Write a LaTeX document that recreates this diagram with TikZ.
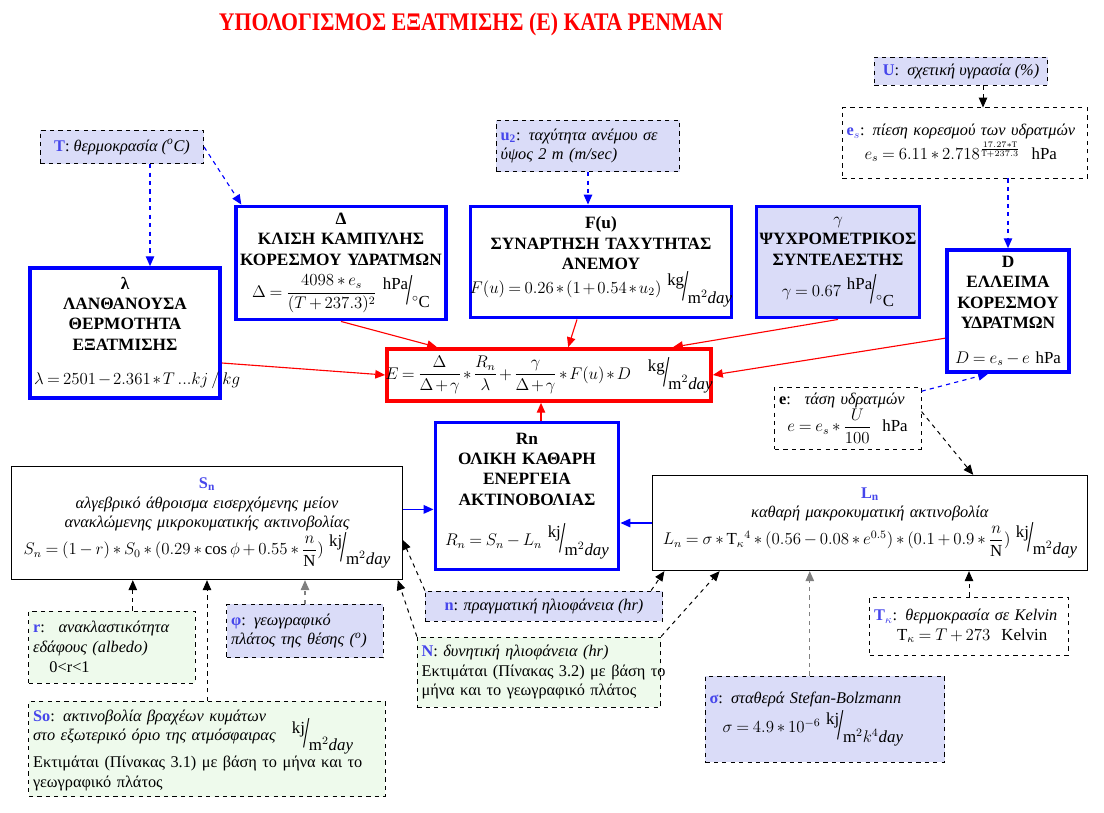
\documentclass[tikz,border=0pt]{standalone}
\usepackage{amsmath}
\usepackage{fontspec}
\setmainfont{Liberation Serif}
\usetikzlibrary{arrows.meta}

\definecolor{labblue}{RGB}{70,70,235}
\definecolor{lav}{RGB}{218,220,248}
\definecolor{mint}{RGB}{238,250,236}

\newcommand{\fm}{\fontsize{12}{14}\selectfont\mdseries\medmuskip=3mu\thickmuskip=4mu\relax}
\newcommand{\tight}{\medmuskip=2mu\thickmuskip=3.5mu\relax}
\newcommand{\cl}[1]{\makebox[\linewidth]{#1}}
\newcommand{\perunit}[2]{\raisebox{1.0ex}{#1}\kern-0.1em\raisebox{-0.9ex}{\scalebox{1.35}[2.6]{/}}\kern-0.05em\raisebox{-1.3ex}{#2}}
\newcommand{\lab}[1]{{\color{labblue}\bfseries #1}}

\begin{document}
\begin{tikzpicture}[x=0.025cm, y=-0.025cm,
		every node/.style={font=\fontsize{11.6}{14}\selectfont, inner sep=3pt},
		mainbox/.style={draw=blue, line width=2.6pt, align=center, font=\fontsize{12.3}{14.5}\selectfont\bfseries},
		redbox/.style={draw=red, line width=2.6pt, align=center},
		plainbox/.style={draw=black, line width=0.8pt, align=center},
		infobox/.style={draw=black, dashed, line width=0.7pt, align=left},
		feed/.style={draw=red, line width=0.8pt, -{Triangle[length=7pt,width=6pt]}},
		bluearr/.style={draw=blue, line width=1.2pt, -{Triangle[length=7pt,width=6pt]}},
		bluedash/.style={draw=blue, dashed, line width=0.8pt, -{Triangle[length=7pt,width=6pt]}},
		blackdash/.style={draw=black, dashed, line width=0.7pt, -{Triangle[length=7pt,width=6pt]}},
		greydash/.style={draw=gray, dashed, line width=0.8pt, -{Triangle[length=7pt,width=6pt]}}]
	\useasboundingbox (0,0) rectangle (1104,813);

	\node[font=\fontsize{18}{22}\selectfont\bfseries, text=red] (title) at(471,24){\scalebox{0.86}[1]{ΥΠΟΛΟΓΙΣΜΟΣ ΕΞΑΤΜΙΣΗΣ (Ε) ΚΑΤΑ PENMAN}};

	\node[infobox, fill=lav,
		minimum width = 4.08cm,
		minimum height = 0.83cm] (T) at(122,147){\lab{T}: \textit{θερμοκρασία (\textsuperscript{o}C)}};
	\node[infobox, fill=lav, text width = 4.37cm,
		minimum height = 1.28cm] (u2) at(588,146){\lab{u$_\mathbf{2}$}: \textit{ταχύτητα ανέμου σε}\\ \textit{ύψος 2 m (m/sec)}};
	\node[infobox, fill=lav,
		minimum width = 4.33cm,
		minimum height = 0.7cm] (U) at(961,71){\lab{U}:~ \textit{σχετική υγρασία (\%)}};
	\node[infobox, fill=white, text width = 5.92cm,
		minimum height = 1.75cm] (es) at(965,143){\lab{e$_s$}: \textit{πίεση κορεσμού των υδρατμών}\\[1pt]
		\hspace*{1.1em}{\fm $e_s=6.11*2.718^{\frac{17.27*\mathrm{T}}{\mathrm{T}+237.3}}$\ \ hPa}};

	\node[mainbox, text width = 4.54cm,
		minimum height = 3.25cm] (lam) at(125,333){λ\\ ΛΑΝΘΑΝΟΥΣΑ\\ ΘΕΡΜΟΤΗΤΑ\\ ΕΞΑΤΜΙΣΗΣ\\[10pt]
		\makebox[\linewidth][l]{\fm\tight $\lambda=2501-2.361*T\,...kj\,/\,kg$}};
	\node[mainbox, text width = 5.04cm, inner ysep = 1pt,
		minimum height = 2.83cm] (Dl) at(341,263){Δ\\ ΚΛΙΣΗ ΚΑΜΠΥΛΗΣ\\ \cl{ΚΟΡΕΣΜΟΥ ΥΔΡΑΤΜΩΝ}\\[6pt]
		\cl{\fm $\Delta=\dfrac{4098*e_s}{(T+237.3)^2}$\ \perunit{hPa}{$^\circ$C}}};
	\node[mainbox, text width = 6.32cm,
		minimum height = 2.78cm] (Fu) at(601,262){F(u)\\ \cl{ΣΥΝΑΡΤΗΣΗ ΤΑΧΥΤΗΤΑΣ}\\ ΑΝΕΜΟΥ\\
		\cl{\fm\tight $F(u)=0.26*(1+0.54*u_2)$\ \perunit{kg}{m$^2$\textit{day}}}};
	\node[mainbox, fill=lav, text width = 3.87cm,
		minimum height = 2.78cm] (gam) at(838,262){{\fm $\gamma$}\\ \cl{ΨΥΧΡΟΜΕΤΡΙΚΟΣ}\\ ΣΥΝΤΕΛΕΣΤΗΣ\\[6pt]
		\cl{\fm $\gamma=0.67$\ \perunit{hPa}{$^\circ$C}}};
	\node[mainbox, text width = 2.84cm,
		minimum height = 3.05cm] (D) at(1008,311){D\\ ΕΛΛΕΙΜΑ\\ ΚΟΡΕΣΜΟΥ\\ ΥΔΡΑΤΜΩΝ\\[10pt]
		\cl{\fm $D=e_s-e$\ hPa}};
	\node[infobox, fill=white, text width = 3.44cm,
		minimum height = 1.55cm] (e) at(848,418){\textbf{e}:~ \textit{τάση υδρατμών}\\
		\hspace*{0.5em}{\fm $e=e_s*\dfrac{U}{100}$\ \ hPa}};

	\node[redbox, text width = 7.89cm,
		minimum height = 1.3cm] (E) at(549,375){\cl{\fm\tight $E=\dfrac{\Delta}{\Delta+\gamma}*\dfrac{R_n}{\lambda}+\dfrac{\gamma}{\Delta+\gamma}*F(u)*D$\quad\perunit{kg}{m$^2$\textit{day}}}};
	\node[mainbox, text width = 4.37cm,
		minimum height = 3.68cm] (Rn) at(527,496){Rn\\ ΟΛΙΚΗ ΚΑΘΑΡΗ\\ ΕΝΕΡΓΕΙΑ\\ ΑΚΤΙΝΟΒΟΛΙΑΣ\\[12pt]
		\cl{\fm $R_n=S_n-L_n$\ \perunit{kj}{m$^2$\textit{day}}}};
	\node[plainbox, text width = 9.54cm,
		minimum height = 2.83cm] (Sn) at(207,523){\lab{S$_\mathbf{n}$}\\ \textit{αλγεβρικό άθροισμα εισερχόμενης μείον}\\ \textit{ανακλώμενης μικροκυματικής ακτινοβολίας}\\
		\cl{\fm $S_n=(1-r)*S_0*(0.29*\cos\phi+0.55*\dfrac{n}{\mathrm{N}})$\ \perunit{kj}{m$^2$\textit{day}}}};
	\node[plainbox, text width = 10.64cm,
		minimum height = 2.38cm] (Ln) at(870,523){\lab{L$_\mathbf{n}$}\\ \textit{καθαρή μακροκυματική ακτινοβολία}\\
		\cl{\fm $L_n=\sigma*\mathrm{T}_\kappa{}^4*(0.56-0.08*e^{0.5})*(0.1+0.9*\dfrac{n}{\mathrm{N}})$\ \perunit{kj}{m$^2$\textit{day}}}};

	\node[infobox, fill=white, text width = 4.74cm,
		minimum height = 1.45cm] (Tk) at(969,626){\lab{T$_\kappa$}: \textit{θερμοκρασία σε Kelvin}\\
		\hspace*{1.4em}{\fm $\mathrm{T}_\kappa=T+273$\ \ Kelvin}};
	\node[infobox, fill=mint, text width = 3.94cm,
		minimum height = 1.8cm] (r) at(112,647){\lab{r}:~ \textit{ανακλαστικότητα}\\ \textit{εδάφους (albedo)}\\ \hspace*{1em}0<r<1};
	\node[infobox, fill=lav, text width = 3.69cm,
		minimum height = 1.33cm] (phi) at(305,631){\lab{φ}: \textit{γεωγραφικό}\\ \textit{πλάτος της θέσης (\textsuperscript{o})}};
	\node[infobox, fill=mint, text width = 8.69cm,
		minimum height = 2.38cm] (So) at(207,749){\begin{tabular}[b]{@{}l@{}}\lab{So}: \textit{ακτινοβολία βραχέων κυμάτων}\\ \textit{στο εξωτερικό όριο της ατμόσφαιρας}\end{tabular}\quad
		{\fm\perunit{kj}{m$^2$\textit{day}}}\\
		\mbox{Εκτιμάται (Πίνακας 3.1) με βάση το μήνα και το}\\ γεωγραφικό πλάτος};
	\node[infobox, fill=lav,
		minimum width = 5.93cm,
		minimum height = 0.75cm] (n) at(544,606){\lab{n}: \textit{πραγματική ηλιοφάνεια (hr)}};
	\node[infobox, fill=mint, text width = 5.87cm,
		minimum height = 1.75cm] (N) at(539,672){\lab{N}: \textit{δυνητική ηλιοφάνεια (hr)}\\ \mbox{Εκτιμάται (Πίνακας 3.2) με βάση το}\\ \mbox{μήνα και το γεωγραφικό πλάτος}};
	\node[infobox, fill=lav, text width = 5.77cm,
		minimum height = 2.15cm] (sig) at(825,719){\lab{σ}: \textit{σταθερά Stefan-Bolzmann}\\[2pt]
		\hspace*{0.8em}{\fm $\sigma=4.9*10^{-6}$\ \perunit{kj}{m$^2k^4$\textit{day}}}};

	\coordinate (tl) at ([xshift=0.7cm]T.south);
	\coordinate (ul) at ([xshift=0.55cm]U.south);
	\coordinate (rt) at ([xshift=0.35cm]Rn.north);
	\coordinate (sr) at ([yshift=0.34cm]Sn.east);
	\coordinate (rr) at ([xshift=0.52cm]r.north);
	\coordinate (st) at ([xshift=-0.38cm]sig.north);

	\draw[bluedash] (tl) -- (tl |- lam.north);
	\draw[bluedash] (T.east) -- ([xshift=0.18cm]Dl.north west);
	\draw[bluedash] (u2.south) -- (u2.south |- Fu.north);
	\draw[blackdash] (ul) -- (ul |- es.north);
	\draw[bluedash] (D.north |- es.south) -- (D.north);
	\draw[bluedash] (e.20) -- ([xshift=-0.5cm]D.south);
	\draw[blackdash] (e.5) -- ([xshift=2.58cm]Ln.north);

	\draw[feed] ([yshift=-0.75cm]lam.east) -- (E.west);
	\draw[feed] (Dl.south) -- ([xshift=-2.8cm]E.north);
	\draw[feed] ([xshift=-0.6cm]Fu.south) -- ([xshift=0.48cm]E.north);
	\draw[feed] (gam.south) -- ([xshift=3.1cm]E.north);
	\draw[feed] ([yshift=-0.68cm]D.west) -- (E.east);
	\draw[feed] (rt) -- (rt |- E.south);

	\draw[bluearr] (sr) -- (sr -| Rn.west);
	\draw[bluearr] (Ln.west) -- (Ln.west -| Rn.east);

	\draw[blackdash] (rr) -- (rr |- Sn.south);
	\draw[blackdash] (So.north) -- (So.north |- Sn.south);
	\draw[greydash] (phi.north) -- (phi.north |- Sn.south);
	\draw[blackdash] (n.north west) -- ([yshift=-0.42cm]Sn.east);
	\draw[blackdash] (N.north west) -- ([xshift=-0.12cm]Sn.south east);

	\draw[blackdash] ([xshift=-0.3cm]n.north east) -- ([xshift=0.3cm]Ln.south west);
	\draw[blackdash] (N.north east) -- ([xshift=1.68cm]Ln.south west);
	\draw[greydash] (st) -- (st |- Ln.south);
	\draw[blackdash] (Tk.north) -- (Tk.north |- Ln.south);
\end{tikzpicture}
\end{document}
